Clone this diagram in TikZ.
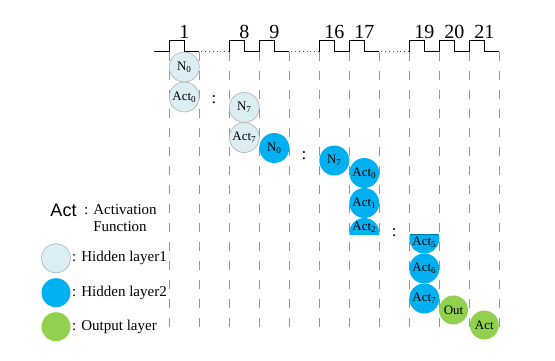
\documentclass[tikz,border=0pt]{standalone}
\usepackage{fontspec}
\setmainfont{Liberation Serif}
\newfontfamily\actfont{Liberation Sans}
\usepackage{tikz}
\usepackage{xcolor}
\usetikzlibrary{positioning}
\definecolor{hidA}{RGB}{218,238,243}
\definecolor{hidB}{RGB}{0,176,240}
\definecolor{outc}{RGB}{146,208,80}
\definecolor{gridc}{RGB}{150,150,150}
\newcommand{\cyc}[2]{#1\textsubscript{#2}}

\tikzset{
  neuron/.style={circle,minimum size=30pt,inner sep=0pt,outer sep=0pt,
                 font=\fontsize{13}{13}\selectfont},
  layA/.style={neuron,fill=hidA,draw=gray!70,line width=0.5pt},
  layB/.style={neuron,fill=hidB},
  layO/.style={neuron,fill=outc,minimum size=29pt},
  clkline/.style={line width=0.9pt,black},
  gapline/.style={line width=0.8pt,black!70,dash pattern=on 0.8pt off 3pt},
  slotline/.style={gridc,line width=0.6pt,dash pattern=on 9pt off 10pt},
  vdots/.style={font=\fontsize{17}{17}\selectfont,inner sep=0pt},
  legtext/.style={font=\fontsize{15}{17}\selectfont,inner sep=0pt,anchor=west}
}

\begin{document}
\begin{tikzpicture}[x=1pt,y=1pt]
\useasboundingbox (0,0) rectangle (555,-360);

\foreach \k in {0,...,11}
  \draw[slotline] (169.3+30*\k,-52) -- ++(0,-281);

\draw[clkline] (154,-51.7) -- (169.3,-51.7);
\foreach \k/\lab in {0/1,2/8,3/9,5/16,6/17,8/19,9/20,10/21}{
  \pgfmathsetmacro{\xs}{169.3+30*\k}
  \draw[clkline] (\xs,-51.7) -- (\xs,-40) -- (\xs+15,-40) -- (\xs+15,-51.7)
                 -- (\xs+30,-51.7);
  \node[font=\fontsize{20}{20}\selectfont,inner sep=0pt] (t\lab) at (\xs+15,-32) {\lab};
}
\foreach \k in {1,4,7}
  \draw[gapline] (169.3+30*\k+2,-51.7) -- ++(27,0);

\node[layA] (n0a) at (184.3,-67) {\cyc{N}{0}};
\node[layA,below=0pt of n0a] (act0a) {\cyc{Act}{0}};
\node[vdots] (dotsA) at (214,-100) {:};
\node[layA] (n7a) at (244.3,-107.5) {\cyc{N}{7}};
\node[layA,below=0pt of n7a] (act7a) {\cyc{Act}{7}};

\node[layB] (n0b) at (274.3,-148) {\cyc{N}{0}};
\node[vdots] (dotsB) at (304,-155.5) {:};
\node[layB] (n7b) at (334.3,-160.5) {\cyc{N}{7}};
\node[layB] (act0b) at (364.3,-173) {\cyc{Act}{0}};
\node[layB,below=0pt of act0b] (act1b) {\cyc{Act}{1}};
\begin{scope}
  \clip (340,-215) rectangle (390,-234.5);
  \node[layB] (act2b) at (364.3,-233) {};
\end{scope}
\node[font=\fontsize{13}{13}\selectfont,inner sep=0pt] (act2t) at (364.3,-227) {\cyc{Act}{2}};
\node[vdots] (dotsC) at (394.3,-233) {:};
\begin{scope}
  \clip (400,-234) rectangle (450,-260);
  \node[layB] (act5b) at (424.3,-238.5) {};
\end{scope}
\draw[hidB!70!black,line width=0.5pt] (act5b.center) ++(-13.9,4.5) -- ++(27.8,0);
\node[font=\fontsize{13}{13}\selectfont,inner sep=0pt] (act5t) at (424.3,-242) {\cyc{Act}{5}};
\node[layB] (act6b) at (424.3,-268.5) {\cyc{Act}{6}};
\node[layB,below=0pt of act6b] (act7b) {\cyc{Act}{7}};

\node[layO] (outn) at (453.5,-310) {Out};
\node[layO] (acto) at (484.3,-325) {Act};

\node[font=\actfont\fontsize{18}{18}\selectfont,inner sep=0pt] (actkey) at (63.5,-210) {Act};
\node[legtext,align=left] (actdesc) at (84,-218.5) {: Activation\\\hphantom{: }Function};
\node[layA,minimum size=29pt] (keyA) at (56,-258.3) {};
\node[legtext] (keyAt) at (72,-258.3) {: Hidden layer1};
\node[layB,minimum size=29pt] (keyB) at (56,-292.7) {};
\node[legtext] (keyBt) at (72,-292.7) {: Hidden layer2};
\node[layO] (keyO) at (56,-326.7) {};
\node[legtext] (keyOt) at (72,-326.7) {: Output layer};
\end{tikzpicture}
\end{document}
